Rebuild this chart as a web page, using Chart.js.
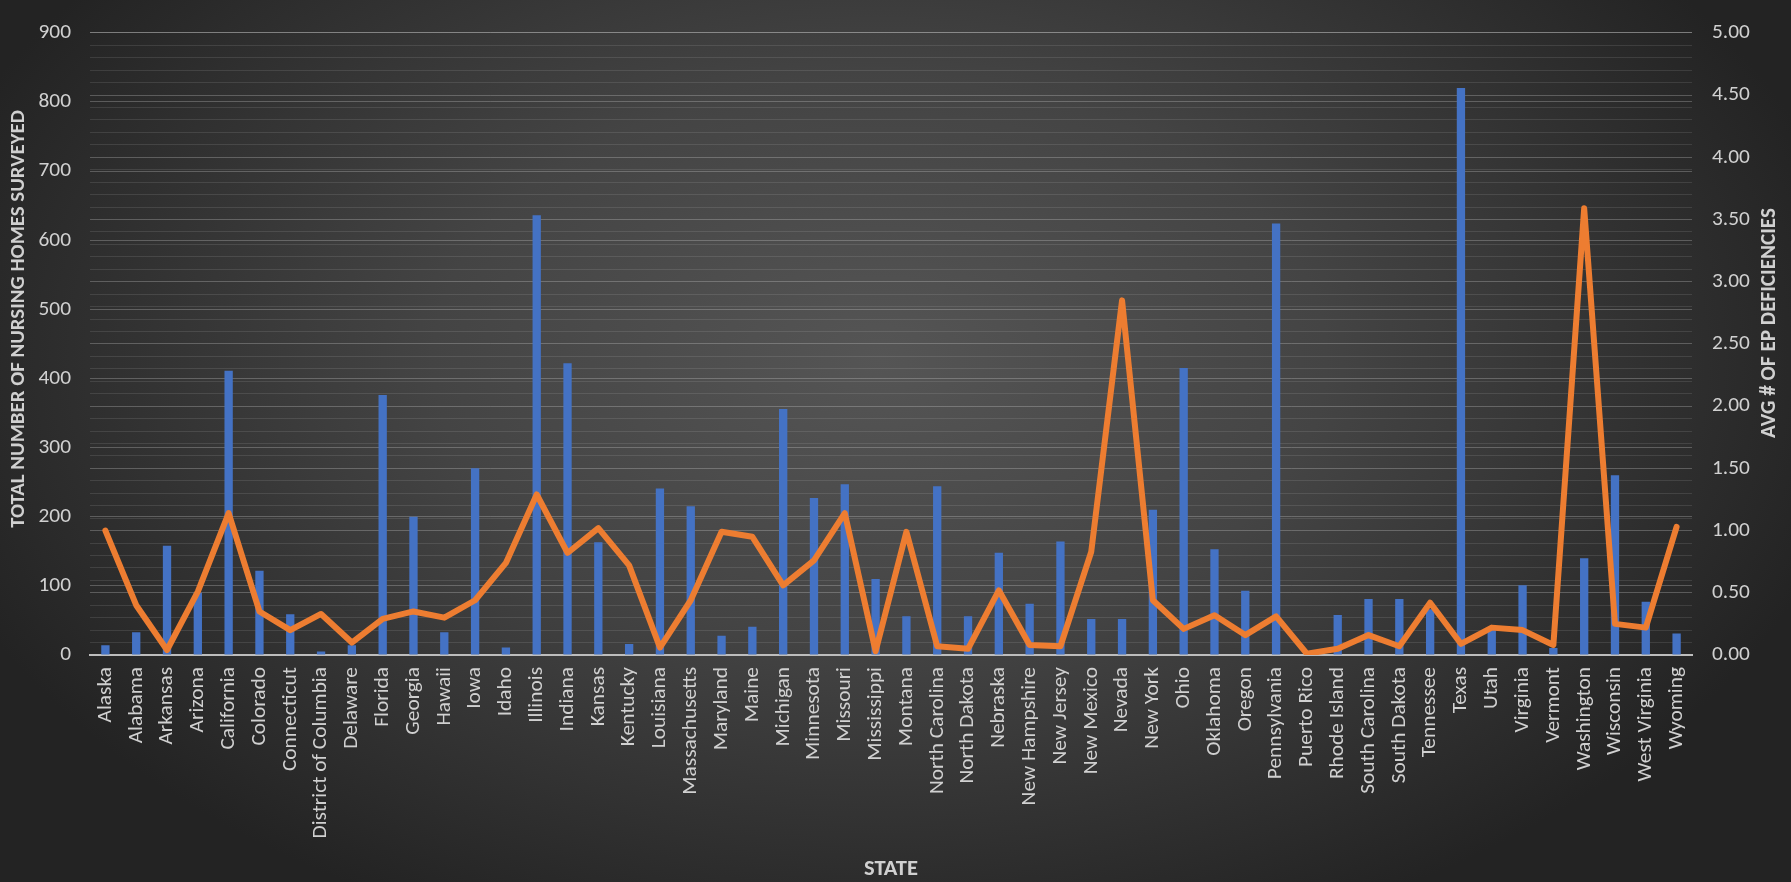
<!DOCTYPE html>
<html>
<head>
<meta charset="utf-8">
<script src="https://cdn.jsdelivr.net/npm/chart.js@4.4.1/dist/chart.umd.min.js"></script>
<style>
  html, body { margin: 0; padding: 0; background: #2a2a2a; }
  #wrap { width: 1791px; height: 882px; }
</style>
</head>
<body>
<div id="wrap"><canvas id="c" width="1791" height="882"></canvas></div>
<script>
const states = ["Alaska","Alabama","Arkansas","Arizona","California","Colorado","Connecticut","District of Columbia","Delaware","Florida","Georgia","Hawaii","Iowa","Idaho","Illinois","Indiana","Kansas","Kentucky","Louisiana","Massachusetts","Maryland","Maine","Michigan","Minnesota","Missouri","Mississippi","Montana","North Carolina","North Dakota","Nebraska","New Hampshire","New Jersey","New Mexico","Nevada","New York","Ohio","Oklahoma","Oregon","Pennsylvania","Puerto Rico","Rhode Island","South Carolina","South Dakota","Tennessee","Texas","Utah","Virginia","Vermont","Washington","Wisconsin","West Virginia","Wyoming"];

const homesSurveyed = [14,33,158,90,411,122,59,5,14,376,200,33,270,11,636,422,163,16,241,215,28,41,356,227,247,110,56,244,56,148,74,164,52,52,210,415,153,93,624,0,58,81,81,66,820,36,101,10,140,260,77,31];

const avgEpDeficiencies = [1.00,0.40,0.04,0.51,1.14,0.35,0.20,0.33,0.10,0.29,0.35,0.30,0.44,0.74,1.29,0.82,1.02,0.72,0.06,0.44,0.99,0.95,0.56,0.76,1.14,0.03,0.99,0.07,0.05,0.52,0.08,0.07,0.83,2.85,0.44,0.21,0.32,0.16,0.31,0.01,0.05,0.16,0.07,0.42,0.09,0.22,0.20,0.08,3.59,0.25,0.22,1.03];

const leftTitle = "TOTAL NUMBER OF NURSING HOMES SURVEYED";
const rightTitle = "AVG # OF EP DEFICIENCIES";
const xTitle = "STATE";

const FONT = "Carlito, Lato, 'Open Sans', sans-serif";
function fitSize(text, target, weight) {
  const c = document.createElement('canvas').getContext('2d');
  c.font = weight + ' 100px ' + FONT;
  return 100 * target / c.measureText(text).width;
}
const tickSize = fitSize('Minnesota', 93, 'normal');
const textColor = '#d0d0d0';

const bgPlugin = {
  id: 'bg',
  beforeDraw(chart) {
    const ctx = chart.ctx;
    const w = chart.width, h = chart.height;
    ctx.save();
    ctx.fillStyle = '#232323';
    ctx.fillRect(0, 0, w, h);
    ctx.translate(880, 360);
    ctx.scale(1.6, 1);
    const g = ctx.createRadialGradient(0, 0, 0, 0, 0, 620);
    g.addColorStop(0, '#555555');
    g.addColorStop(0.45, '#444444');
    g.addColorStop(1, '#232323');
    ctx.fillStyle = g;
    ctx.fillRect(-1000, -1000, 2000, 2000);
    ctx.restore();
  }
};

const titlePlugin = {
  id: 'titles',
  afterDraw(chart) {
    const ctx = chart.ctx;
    ctx.save();
    ctx.fillStyle = textColor;
    ctx.textAlign = 'center';
    ctx.textBaseline = 'middle';
    ctx.font = 'bold ' + fitSize(leftTitle, 418, 'bold') + 'px ' + FONT;
    ctx.save();
    ctx.translate(19, 319);
    ctx.rotate(-Math.PI / 2);
    ctx.fillText(leftTitle, 0, 0);
    ctx.restore();
    ctx.font = 'bold ' + fitSize(rightTitle, 230, 'bold') + 'px ' + FONT;
    ctx.save();
    ctx.translate(1770, 323);
    ctx.rotate(-Math.PI / 2);
    ctx.fillText(rightTitle, 0, 0);
    ctx.restore();
    ctx.font = 'bold ' + fitSize(xTitle, 54, 'bold') + 'px ' + FONT;
    const ca = chart.chartArea;
    ctx.fillText(xTitle, (ca.left + ca.right) / 2, 869);
    ctx.restore();
  }
};

new Chart(document.getElementById('c'), {
  data: {
    labels: states,
    datasets: [
      {
        type: 'line',
        label: 'Avg # of EP deficiencies',
        data: avgEpDeficiencies,
        yAxisID: 'y1',
        borderColor: '#ED7D31',
        backgroundColor: '#ED7D31',
        borderWidth: 6,
        borderJoinStyle: 'round',
        borderCapStyle: 'round',
        pointRadius: 0,
        tension: 0,
        order: 0
      },
      {
        type: 'bar',
        label: 'Total number of nursing homes surveyed',
        data: homesSurveyed,
        yAxisID: 'y',
        backgroundColor: '#4472C4',
        barPercentage: 0.27,
        categoryPercentage: 1,
        order: 1
      }
    ]
  },
  options: {
    responsive: false,
    animation: false,
    devicePixelRatio: 1,
    layout: { padding: { top: 18, left: 0, right: 0, bottom: 0 } },
    plugins: { legend: { display: false }, tooltip: { enabled: false } },
    scales: {
      x: {
        grid: { display: false, drawTicks: false },
        border: { display: true, color: '#bdbdbd', width: 2 },
        ticks: {
          color: textColor,
          font: { family: FONT, size: tickSize },
          minRotation: 90, maxRotation: 90,
          autoSkip: false,
          padding: 12
        },
        afterFit(s) { s.height = 227; }
      },
      y: {
        position: 'left',
        min: 0, max: 900,
        grid: { color: 'rgba(220,220,220,0.28)', lineWidth: 1, drawTicks: false },
        border: { display: false },
        ticks: {
          stepSize: 100,
          color: textColor,
          font: { family: FONT, size: tickSize },
          padding: 19
        },
        afterFit(s) { s.width = 90; }
      },
      y1: {
        position: 'right',
        min: 0, max: 5,
        grid: {
          drawTicks: false,
          color(ctx) {
            const v = ctx.tick ? ctx.tick.value : 0;
            const major = Math.abs(v * 2 - Math.round(v * 2)) < 1e-6;
            return major ? 'rgba(220,220,220,0.28)' : 'rgba(220,220,220,0.13)';
          },
          lineWidth: 1
        },
        border: { display: false },
        ticks: {
          stepSize: 0.1,
          autoSkip: false,
          color: textColor,
          font: { family: FONT, size: tickSize },
          padding: 20,
          callback(v) {
            return Math.abs(v * 2 - Math.round(v * 2)) < 1e-6 ? Number(v).toFixed(2) : '';
          }
        },
        afterFit(s) { s.width = 99; }
      }
    }
  },
  plugins: [bgPlugin, titlePlugin]
});
</script>
</body>
</html>
